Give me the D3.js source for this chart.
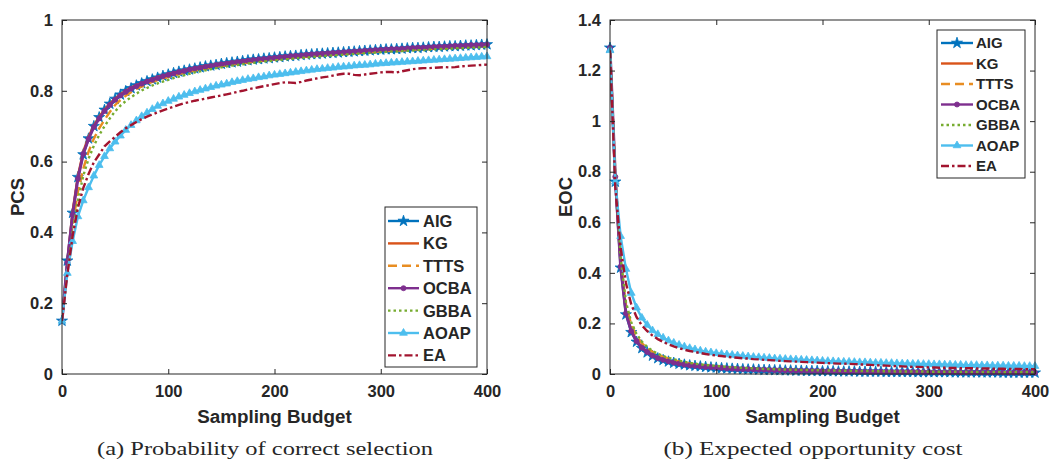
<!DOCTYPE html>
<html><head><meta charset="utf-8">
<script src="https://cdn.jsdelivr.net/npm/d3@7"></script>
<style>body{margin:0;background:#fff}svg{display:block}text{font-family:"Liberation Sans",Arial,sans-serif;font-weight:bold;fill:#262626}</style>
</head><body>
<svg id="c" width="1051" height="459"></svg>
<script>
const budget = [0,5,10,15,20,25,30,35,40,45,50,55,60,65,70,75,80,85,90,95,100,105,110,115,120,125,130,135,140,145,150,155,160,165,170,175,180,185,190,195,200,205,210,215,220,225,230,235,240,245,250,255,260,265,270,275,280,285,290,295,300,305,310,315,320,325,330,335,340,345,350,355,360,365,370,375,380,385,390,395,400];
const methods = ["AIG","KG","TTTS","OCBA","GBBA","AOAP","EA"];
const xTicks = [0,100,200,300,400];
const pcsTicks = [0,0.2,0.4,0.6,0.8,1];
const eocTicks = [0,0.2,0.4,0.6,0.8,1,1.2,1.4];

// PCS values
const pcsAIG = [0.150,0.320,0.455,0.556,0.620,0.665,0.700,0.725,0.746,0.763,0.777,0.789,0.799,0.807,0.815,0.821,0.827,0.832,0.837,0.842,0.846,0.850,0.854,0.857,0.860,0.863,0.866,0.869,0.871,0.873,0.876,0.878,0.880,0.882,0.884,0.886,0.888,0.889,0.891,0.892,0.894,0.895,0.897,0.898,0.899,0.901,0.902,0.903,0.904,0.905,0.906,0.907,0.908,0.909,0.910,0.911,0.912,0.913,0.914,0.915,0.916,0.917,0.917,0.918,0.919,0.920,0.921,0.921,0.922,0.923,0.924,0.924,0.925,0.926,0.926,0.927,0.928,0.928,0.929,0.930,0.931];
const pcsKG = [0.150,0.318,0.460,0.560,0.628,0.670,0.702,0.727,0.747,0.764,0.778,0.790,0.800,0.809,0.816,0.822,0.828,0.834,0.839,0.843,0.847,0.851,0.855,0.858,0.861,0.864,0.867,0.870,0.872,0.875,0.877,0.879,0.881,0.883,0.885,0.887,0.888,0.890,0.891,0.893,0.894,0.896,0.897,0.898,0.900,0.901,0.902,0.903,0.905,0.906,0.907,0.908,0.909,0.910,0.911,0.912,0.913,0.913,0.914,0.915,0.916,0.917,0.918,0.919,0.919,0.920,0.921,0.922,0.922,0.923,0.924,0.925,0.925,0.926,0.927,0.927,0.928,0.929,0.929,0.930,0.931];
const pcsTTTS = [0.150,0.300,0.420,0.515,0.580,0.628,0.665,0.694,0.718,0.740,0.760,0.774,0.786,0.796,0.805,0.812,0.819,0.825,0.830,0.835,0.839,0.843,0.847,0.851,0.854,0.857,0.860,0.863,0.865,0.868,0.870,0.872,0.874,0.876,0.878,0.880,0.882,0.884,0.885,0.887,0.888,0.890,0.891,0.893,0.894,0.895,0.896,0.898,0.899,0.900,0.901,0.902,0.903,0.904,0.905,0.906,0.907,0.908,0.909,0.910,0.911,0.912,0.913,0.914,0.914,0.915,0.916,0.917,0.918,0.918,0.919,0.920,0.921,0.921,0.922,0.923,0.923,0.924,0.925,0.925,0.926];
const pcsOCBA = [0.150,0.315,0.450,0.552,0.622,0.664,0.698,0.722,0.743,0.760,0.775,0.787,0.797,0.806,0.813,0.820,0.826,0.831,0.836,0.841,0.845,0.849,0.853,0.856,0.860,0.863,0.865,0.868,0.870,0.873,0.875,0.877,0.879,0.881,0.883,0.885,0.887,0.889,0.890,0.892,0.893,0.895,0.896,0.898,0.899,0.900,0.902,0.903,0.904,0.905,0.906,0.907,0.908,0.909,0.910,0.911,0.912,0.913,0.914,0.915,0.916,0.917,0.918,0.918,0.919,0.920,0.921,0.922,0.922,0.923,0.924,0.925,0.925,0.926,0.927,0.927,0.928,0.929,0.929,0.930,0.931];
const pcsGBBA = [0.150,0.290,0.400,0.490,0.560,0.608,0.645,0.675,0.700,0.722,0.742,0.758,0.771,0.782,0.792,0.801,0.808,0.815,0.821,0.826,0.831,0.836,0.840,0.844,0.848,0.852,0.855,0.858,0.861,0.864,0.866,0.869,0.871,0.873,0.875,0.877,0.879,0.881,0.883,0.884,0.886,0.887,0.889,0.890,0.892,0.893,0.894,0.895,0.897,0.898,0.899,0.900,0.901,0.902,0.903,0.904,0.905,0.906,0.907,0.908,0.909,0.910,0.911,0.911,0.912,0.913,0.914,0.915,0.915,0.916,0.917,0.918,0.918,0.919,0.920,0.920,0.921,0.922,0.922,0.923,0.924];
const pcsAOAP = [0.150,0.285,0.375,0.445,0.490,0.527,0.560,0.590,0.615,0.637,0.656,0.673,0.689,0.703,0.716,0.728,0.738,0.748,0.757,0.764,0.771,0.777,0.783,0.788,0.793,0.798,0.802,0.806,0.810,0.814,0.817,0.820,0.824,0.827,0.830,0.833,0.835,0.838,0.840,0.843,0.845,0.847,0.849,0.851,0.853,0.855,0.857,0.859,0.861,0.862,0.864,0.865,0.867,0.868,0.869,0.871,0.872,0.873,0.874,0.876,0.877,0.878,0.879,0.880,0.881,0.882,0.883,0.884,0.885,0.886,0.887,0.888,0.889,0.890,0.891,0.892,0.893,0.894,0.895,0.896,0.897];
const pcsEA = [0.150,0.280,0.390,0.470,0.525,0.565,0.598,0.620,0.643,0.657,0.670,0.683,0.694,0.703,0.712,0.720,0.727,0.733,0.739,0.745,0.750,0.755,0.760,0.765,0.768,0.772,0.775,0.778,0.781,0.784,0.787,0.790,0.793,0.797,0.800,0.804,0.807,0.810,0.813,0.816,0.819,0.822,0.824,0.823,0.822,0.825,0.829,0.832,0.835,0.838,0.840,0.843,0.846,0.848,0.848,0.845,0.844,0.846,0.848,0.850,0.852,0.853,0.853,0.852,0.855,0.858,0.861,0.863,0.864,0.864,0.865,0.866,0.867,0.866,0.867,0.869,0.870,0.871,0.872,0.873,0.874];

// EOC values
const eocAIG = [1.290,0.760,0.420,0.235,0.165,0.127,0.102,0.085,0.072,0.062,0.055,0.049,0.044,0.040,0.037,0.034,0.032,0.030,0.028,0.026,0.025,0.023,0.022,0.021,0.020,0.019,0.018,0.018,0.017,0.016,0.016,0.015,0.015,0.014,0.014,0.013,0.013,0.012,0.012,0.012,0.011,0.011,0.011,0.010,0.010,0.010,0.010,0.009,0.009,0.009,0.009,0.009,0.008,0.008,0.008,0.008,0.008,0.008,0.007,0.007,0.007,0.007,0.007,0.007,0.007,0.006,0.006,0.006,0.006,0.006,0.006,0.006,0.006,0.006,0.005,0.005,0.005,0.005,0.005,0.005,0.005];
const eocKG = [1.290,0.770,0.430,0.245,0.172,0.132,0.106,0.088,0.075,0.064,0.057,0.051,0.046,0.042,0.038,0.035,0.033,0.031,0.029,0.027,0.026,0.024,0.023,0.022,0.021,0.020,0.019,0.018,0.017,0.017,0.016,0.016,0.015,0.015,0.014,0.014,0.013,0.013,0.012,0.012,0.011,0.011,0.011,0.011,0.010,0.010,0.010,0.010,0.009,0.009,0.009,0.009,0.009,0.008,0.008,0.008,0.008,0.008,0.008,0.007,0.007,0.007,0.007,0.007,0.007,0.007,0.006,0.006,0.006,0.006,0.006,0.006,0.006,0.006,0.006,0.005,0.005,0.005,0.005,0.005,0.005];
const eocTTTS = [1.290,0.780,0.450,0.275,0.195,0.150,0.122,0.102,0.088,0.077,0.068,0.061,0.055,0.050,0.046,0.042,0.039,0.036,0.034,0.032,0.030,0.028,0.027,0.025,0.024,0.023,0.022,0.021,0.020,0.019,0.019,0.018,0.017,0.017,0.016,0.016,0.015,0.015,0.014,0.014,0.013,0.013,0.013,0.012,0.012,0.012,0.011,0.011,0.011,0.011,0.010,0.010,0.010,0.010,0.010,0.009,0.009,0.009,0.009,0.009,0.009,0.008,0.008,0.008,0.008,0.008,0.008,0.008,0.007,0.007,0.007,0.007,0.007,0.007,0.007,0.007,0.007,0.006,0.006,0.006,0.006];
const eocOCBA = [1.290,0.780,0.425,0.240,0.170,0.130,0.104,0.087,0.073,0.063,0.056,0.050,0.045,0.041,0.037,0.034,0.032,0.030,0.028,0.027,0.025,0.024,0.022,0.021,0.020,0.019,0.019,0.018,0.017,0.017,0.016,0.015,0.015,0.014,0.014,0.013,0.013,0.013,0.012,0.012,0.011,0.011,0.011,0.011,0.010,0.010,0.010,0.010,0.009,0.009,0.009,0.009,0.009,0.008,0.008,0.008,0.008,0.008,0.008,0.007,0.007,0.007,0.007,0.007,0.007,0.007,0.006,0.006,0.006,0.006,0.006,0.006,0.006,0.006,0.006,0.005,0.005,0.005,0.005,0.005,0.005];
const eocGBBA = [1.290,0.790,0.460,0.285,0.205,0.158,0.128,0.107,0.092,0.080,0.071,0.064,0.058,0.053,0.048,0.044,0.041,0.038,0.036,0.034,0.032,0.030,0.028,0.027,0.025,0.024,0.023,0.022,0.021,0.020,0.020,0.019,0.018,0.018,0.017,0.017,0.016,0.016,0.015,0.015,0.014,0.014,0.014,0.013,0.013,0.013,0.012,0.012,0.012,0.012,0.011,0.011,0.011,0.011,0.010,0.010,0.010,0.010,0.010,0.010,0.009,0.009,0.009,0.009,0.009,0.009,0.008,0.008,0.008,0.008,0.008,0.008,0.008,0.008,0.007,0.007,0.007,0.007,0.007,0.007,0.007];
const eocAOAP = [1.280,0.760,0.545,0.415,0.320,0.262,0.222,0.194,0.172,0.157,0.143,0.132,0.123,0.115,0.108,0.102,0.097,0.092,0.088,0.085,0.082,0.079,0.077,0.075,0.073,0.071,0.069,0.067,0.066,0.064,0.063,0.061,0.060,0.059,0.058,0.057,0.056,0.055,0.054,0.053,0.052,0.051,0.050,0.049,0.048,0.048,0.047,0.046,0.046,0.045,0.044,0.044,0.043,0.043,0.042,0.041,0.041,0.040,0.040,0.039,0.039,0.038,0.038,0.037,0.037,0.036,0.036,0.035,0.035,0.035,0.034,0.034,0.033,0.033,0.033,0.032,0.032,0.032,0.031,0.031,0.031];
const eocEA = [1.280,0.740,0.500,0.360,0.275,0.225,0.192,0.170,0.152,0.138,0.127,0.117,0.109,0.102,0.096,0.091,0.087,0.083,0.079,0.076,0.073,0.071,0.068,0.066,0.064,0.062,0.061,0.059,0.058,0.056,0.055,0.054,0.052,0.051,0.050,0.049,0.048,0.047,0.046,0.045,0.044,0.043,0.042,0.041,0.041,0.040,0.039,0.038,0.037,0.036,0.035,0.034,0.033,0.032,0.031,0.030,0.029,0.028,0.028,0.027,0.026,0.026,0.025,0.025,0.024,0.024,0.023,0.023,0.023,0.022,0.022,0.022,0.021,0.021,0.021,0.020,0.020,0.020,0.019,0.019,0.019];

const styles = {
  AIG:  {color:"#0072BD", dash:null,          marker:"star"},
  KG:   {color:"#D95319", dash:null,          marker:null},
  TTTS: {color:"#E88D22", dash:"9,5",         marker:null},
  OCBA: {color:"#7E2F8E", dash:null,          marker:"dot"},
  GBBA: {color:"#77AC30", dash:"2.5,3",       marker:null},
  AOAP: {color:"#4DBEEE", dash:null,          marker:"tri"},
  EA:   {color:"#A2142F", dash:"8,3,2.5,3",   marker:null}
};

const svg = d3.select("#c");

function marker(g, type, color, x, y) {
  if (!type) return;
  let sym, size;
  if (type === "star") { sym = d3.symbolStar; size = 38; }
  else if (type === "tri") { sym = d3.symbolTriangle; size = 26; }
  else { sym = d3.symbolCircle; size = 20; }
  g.append("path").attr("d", d3.symbol(sym, size)()).attr("transform", `translate(${x},${y})`)
    .attr("fill", color).attr("stroke", color).attr("stroke-width", 0.8);
}

function panel(opt) {
  const x = d3.scaleLinear().domain([0,400]).range([opt.x0, opt.x1]);
  const y = d3.scaleLinear().domain([0, opt.ymax]).range([374, 20]);
  const g = svg.append("g");
  const clipId = "clip" + opt.id;
  svg.append("clipPath").attr("id", clipId).append("rect")
    .attr("x", opt.x0).attr("y", 20).attr("width", opt.x1 - opt.x0).attr("height", 354);

  methods.forEach(m => {
    const st = styles[m];
    const vals = opt.data[m];
    const pts = budget.map((b, i) => [b, vals[i]]).filter(d => d[1] !== undefined);
    const line = d3.line().x(d => x(d[0])).y(d => y(d[1]));
    g.append("path").attr("d", line(pts)).attr("fill", "none")
      .attr("stroke", st.color).attr("stroke-width", m === "OCBA" ? 3 : 2.4)
      .attr("stroke-dasharray", st.dash).attr("clip-path", `url(#${clipId})`);
    if (st.marker) {
      const mg = g.append("g");
      pts.forEach(d => marker(mg, st.marker, st.color, x(d[0]), y(d[1])));
    }
  });

  const axc = "#262626";
  const ax = svg.append("g");
  ax.append("rect").attr("x", opt.x0).attr("y", 20).attr("width", opt.x1 - opt.x0).attr("height", 354)
    .attr("fill", "none").attr("stroke", axc).attr("stroke-width", 1);
  const bottom = d3.axisBottom(x).tickValues(xTicks).tickSizeInner(-5).tickSizeOuter(0).tickPadding(11).tickFormat(d3.format("d"));
  const top = d3.axisTop(x).tickValues(xTicks).tickSizeInner(-5).tickSizeOuter(0).tickFormat("");
  const left = d3.axisLeft(y).tickValues(opt.yTicks).tickSizeInner(-5).tickSizeOuter(0).tickPadding(9).tickFormat(d => d3.format("")(+d.toFixed(1)));
  const right = d3.axisRight(y).tickValues(opt.yTicks).tickSizeInner(-5).tickSizeOuter(0).tickFormat("");
  [[bottom, `translate(0,374)`], [top, `translate(0,20)`], [left, `translate(${opt.x0},0)`], [right, `translate(${opt.x1},0)`]].forEach(([a, t]) => {
    const gg = ax.append("g").attr("transform", t).call(a);
    gg.select(".domain").remove();
    gg.selectAll("line").attr("stroke", axc);
    gg.selectAll("text").attr("font-family", '"Liberation Sans", Arial, sans-serif')
      .attr("font-weight", "bold").attr("font-size", 16.5).attr("fill", axc);
  });
  ax.selectAll("text").style("fill", axc);

  svg.append("text").attr("x", (opt.x0 + opt.x1) / 2).attr("y", 423).attr("text-anchor", "middle")
    .attr("font-size", 18.8).text("Sampling Budget");
  svg.append("text").attr("transform", `translate(${opt.ylabX},197) rotate(-90)`).attr("text-anchor", "middle")
    .attr("dy", "0.35em").attr("font-size", 18.5).text(opt.ylabel);
  svg.append("text").attr("x", opt.capX).attr("y", 455).attr("text-anchor", "middle")
    .style("font-family", '"Liberation Serif", "DejaVu Serif", serif').style("font-weight", "normal")
    .attr("font-size", 19.5).attr("textLength", opt.capW).attr("lengthAdjust", "spacingAndGlyphs")
    .text(opt.caption);

  const L = opt.legend;
  const lg = svg.append("g");
  lg.append("rect").attr("x", L.x).attr("y", L.y).attr("width", L.w).attr("height", L.h)
    .attr("fill", "#fff").attr("stroke", axc).attr("stroke-width", 1);
  methods.forEach((m, i) => {
    const st = styles[m];
    const cy = L.row0 + i * L.step;
    lg.append("line").attr("x1", L.lx0).attr("x2", L.lx1).attr("y1", cy).attr("y2", cy)
      .attr("stroke", st.color).attr("stroke-width", 2.4).attr("stroke-dasharray", st.dash);
    marker(lg, st.marker, st.color, (L.lx0 + L.lx1) / 2, cy);
    lg.append("text").attr("x", L.tx).attr("y", cy).attr("dy", "0.36em").attr("font-size", L.fs).text(m);
  });
}

panel({id:"a", x0:62, x1:487, ymax:1, yTicks:pcsTicks, ylabel:"PCS", ylabX:18,
  data:{AIG:pcsAIG, KG:pcsKG, TTTS:pcsTTTS, OCBA:pcsOCBA, GBBA:pcsGBBA, AOAP:pcsAOAP, EA:pcsEA},
  caption:"(a) Probability of correct selection", capX:265, capW:336,
  legend:{x:385, y:207, w:92, h:160, row0:221, step:22.4, lx0:388, lx1:419, tx:423, fs:16.5}});
panel({id:"b", x0:610, x1:1035, ymax:1.4, yTicks:eocTicks, ylabel:"EOC", ylabX:566,
  data:{AIG:eocAIG, KG:eocKG, TTTS:eocTTTS, OCBA:eocOCBA, GBBA:eocGBBA, AOAP:eocAOAP, EA:eocEA},
  caption:"(b) Expected opportunity cost", capX:813, capW:299,
  legend:{x:937, y:30, w:88, h:148, row0:43, step:20.5, lx0:941, lx1:973, tx:976, fs:15}});
</script>
</body></html>
